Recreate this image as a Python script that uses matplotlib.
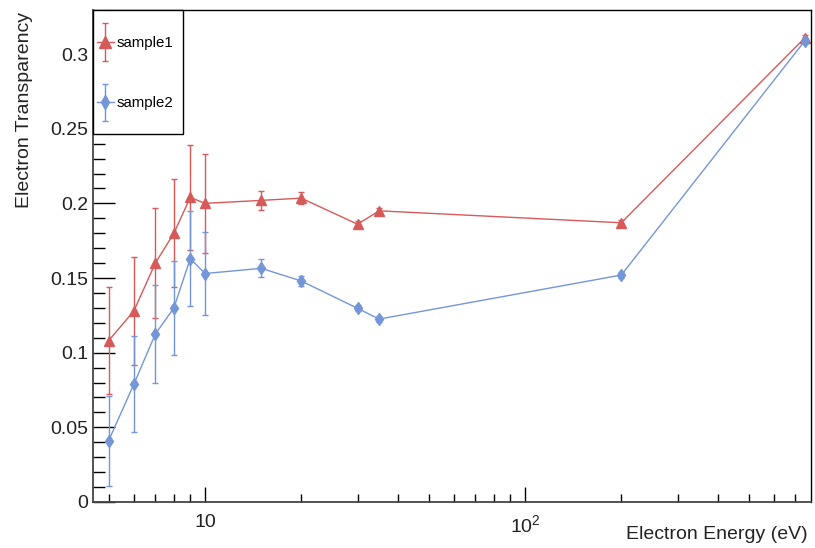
import matplotlib
matplotlib.use("Agg")
import matplotlib.pyplot as plt
from matplotlib.patches import Rectangle
from matplotlib.ticker import FixedLocator, FixedFormatter, LogLocator, MultipleLocator, NullFormatter
from matplotlib.legend_handler import HandlerErrorbar
from matplotlib.container import ErrorbarContainer

# Electron energy (eV) and measured transparency for both samples
energy = [5, 6, 7, 8, 9, 10, 15, 20, 30, 35, 200, 750]
sample1 = [0.108, 0.128, 0.160, 0.180, 0.204, 0.200, 0.202, 0.2035, 0.186, 0.195, 0.187, 0.311]
sample1_err = [0.036, 0.036, 0.037, 0.036, 0.035, 0.033, 0.0063, 0.004, 0.002, 0.002, 0.002, 0.002]
sample2 = [0.041, 0.079, 0.1125, 0.130, 0.163, 0.153, 0.1565, 0.148, 0.1297, 0.1225, 0.152, 0.309]
sample2_err = [0.030, 0.032, 0.0325, 0.0315, 0.032, 0.028, 0.006, 0.0033, 0.002, 0.002, 0.002, 0.002]

xtick_values = [10, 100]
xtick_labels = ["10", r"$10^{2}$"]
ytick_values = [0, 0.05, 0.1, 0.15, 0.2, 0.25, 0.3]
ytick_labels = ["0", "0.05", "0.1", "0.15", "0.2", "0.25", "0.3"]

plt.rcParams["font.family"] = ["Liberation Sans", "DejaVu Sans"]
plt.rcParams["mathtext.fontset"] = "custom"
plt.rcParams["mathtext.rm"] = "Liberation Sans"
plt.rcParams["mathtext.it"] = "Liberation Sans:italic"
plt.rcParams["mathtext.bf"] = "Liberation Sans:bold"

W, H = 815, 548
AX_W, AX_H = 718, 492
fig = plt.figure(figsize=(W / 100, H / 100), dpi=100)
fig.patch.set_facecolor("white")
ax = fig.add_axes([93 / W, 46 / H, AX_W / W, AX_H / H])

red = "#d65a5a"
blue = "#7496d8"

ax.errorbar(energy, sample1, yerr=sample1_err, color=red, marker="^", ms=6.8,
            lw=1.0, elinewidth=1.0, capsize=2.3, capthick=1.0, label="sample1")
ax.errorbar(energy, sample2, yerr=sample2_err, color=blue, marker="d", ms=6.0,
            lw=1.0, elinewidth=1.0, capsize=2.3, capthick=1.0, label="sample2")

ax.set_xscale("log")
ax.set_xlim(4.47, 783)
ax.set_ylim(0, 0.3295)

ax.xaxis.set_major_locator(FixedLocator(xtick_values))
ax.xaxis.set_major_formatter(FixedFormatter(xtick_labels))
ax.xaxis.set_minor_locator(LogLocator(base=10, subs=range(2, 10)))
ax.xaxis.set_minor_formatter(NullFormatter())
ax.yaxis.set_major_locator(FixedLocator(ytick_values))
ax.yaxis.set_major_formatter(FixedFormatter(ytick_labels))
ax.yaxis.set_minor_locator(MultipleLocator(0.01))

ax.tick_params(axis="both", which="both", direction="in", top=False, right=False,
               colors="black", labelcolor="#222222", width=1.0)
ax.tick_params(axis="y", which="major", length=15.8, labelsize=14, pad=3.6)
ax.tick_params(axis="y", which="minor", length=8.6)
ax.tick_params(axis="x", which="major", length=10.8, labelsize=14, pad=8.6)
ax.tick_params(axis="x", which="minor", length=6.0)

for side in ("left", "bottom"):
    ax.spines[side].set_color("#444444")
    ax.spines[side].set_linewidth(1.3)
for side in ("top", "right"):
    ax.spines[side].set_color("black")
    ax.spines[side].set_linewidth(1.0)

ax.set_xlabel("Electron Energy (eV)", fontsize=14, loc="right", color="#222222")
ax.xaxis.set_label_coords((808 - 93) / AX_W, -(526 - 502) / AX_H)
ax.set_ylabel("Electron Transparency", fontsize=14, loc="top", color="#222222")
ax.yaxis.set_label_coords((33 - 93) / AX_W, 1.0 - 2 / AX_H)

# Legend box in the top-left corner of the frame
ax.add_patch(Rectangle((0, 1 - 124 / AX_H), 90 / AX_W, 124 / AX_H,
                       transform=ax.transAxes, facecolor="white",
                       edgecolor="black", lw=1.0, zorder=4.5, clip_on=False))
leg = ax.legend(loc="upper left", bbox_to_anchor=(4 / AX_W, 1 - 26 / AX_H),
                borderaxespad=0, borderpad=0, fontsize=10.8, frameon=False,
                handlelength=1.1, handletextpad=0.2, labelspacing=3.1,
                markerscale=1.2,
                handler_map={ErrorbarContainer: HandlerErrorbar(yerr_size=1.25)})
leg.set_zorder(5)

fig.savefig("out.png", dpi=100)
